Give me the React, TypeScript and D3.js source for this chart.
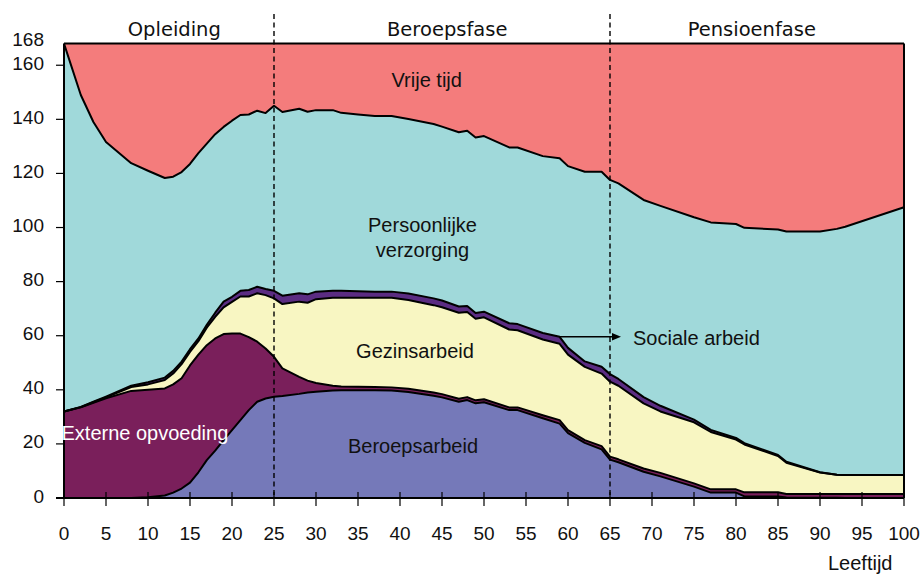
import React from 'react';
import * as d3 from 'd3';

const ages = [0,2,3.5,5,8,10,12,13,14,15,16,17,18,19,20,21,22,23,24,25,26,28,29,30,32,33,35,37,39,41,44,45,47,48,49,50,53,54,57,59,60,62,64,65,66,69,71,75,77,80,81,85,86,90,92,93,100];

const beroepsarbeid = [0,0,0,0,0,0.3,0.9,2,3.5,5.7, 9.5,14,17.5,21.4,25.1,28.8,32.5,35.6,36.8,37.4, 37.7,38.5,39,39.3,39.7,39.8,39.8,39.8,39.7,39.2, 37.8,37.2,35.6,36.2,35,35.4,32.5,32.5,29.5,27.5, 24,20.4,18,14.2,13.2,9.7,8,4.2,2,2, 0.6,0.6,0.2,0.1,0.1,0,0];
const externeOpvoeding = [32,33.5,35.2,36.9,39.6,39.7,39.6,40,40.8,43.3, 43.5,42.5,41.5,39.2,35.7,32,27,22.2,18.5,14.8, 10.2,6.3,4.4,3.2,1.8,1.4,1.3,1.2,1.2,1.2, 1.2,1.2,1.1,1.1,1.1,1.1,1,1,1.1,1.3, 1.1,1,1.2,1.1,1.1,1.2,1.3,1.2,1.2,1.2, 1.5,1.5,1.3,1.4,1.4,1.5,1.5];
const gezinsarbeid = [0,0.1,0.2,0.3,1.4,2,3.1,4,5.2,5, 5,6.5,8,9.9,11.7,13.7,15,17.9,19.7,21.6, 23.8,27.8,28.8,31,32.5,32.8,32.9,33,33.1,32.8, 32.3,32.1,31.8,31.5,30.2,30.3,28.8,28.5,28,28.2, 27.9,27.1,26.8,27.7,27.2,24.1,22.7,22.6,21.2,18.4, 17.7,13.4,11.5,7.9,7.1,7,7];
const socialeArbeid = [0,0.1,0.2,0.3,0.5,0.8,0.9,1,0.9,1, 1,1,1.5,2.1,1.9,2.1,2.4,2.4,2.3,2.8, 3.1,3.1,3.1,2.8,2.6,2.6,2.4,2.3,2.3,2.4, 2.5,2.5,2.3,2.2,2.1,2.1,2.3,2.3,2.4,2.6, 2.5,2,2.5,2.8,2.5,2.3,2.1,1,0.8,0.6, 0.5,0.4,0.4,0.1,0,0,0];
const persoonlijkeVerzorging = [136,115.3,103.4,94.1,82.3,78.2,73.8,71.8,70.1,68.5, 68.5,67,66,64.6,65.1,65,64.9,65.1,65,68.4, 67.9,68.2,67.5,67.1,66.8,65.8,65.4,64.9,64.9,64.5, 64.5,64.3,64.4,64.8,64.9,64.9,65,65.3,65.4,66, 67.2,70.1,72.1,71.8,72.3,72.9,73.9,74.8,76.7,79.1, 79.6,83.4,85.1,89,90.9,91.8,99];
const vrijeTijd = [0,19,29,36.4,44.2,47,49.7,49.2,47.5,44.5, 40.5,37,33.5,30.8,28.5,26.4,26.2,24.8,25.7,23, 25.3,24.1,25.2,24.6,24.6,25.6,26.2,26.8,26.8,27.9, 29.7,30.7,32.8,32.2,34.7,34.2,38.4,38.4,41.6,42.4, 45.3,47.4,47.4,50.4,51.7,57.8,60,64.2,66.1,66.7, 68.1,68.7,69.5,69.5,68.5,67.7,60.5];

const seriesKeys = ['beroepsarbeid','externe','gezinsarbeid','sociale','persoonlijke','vrije'];
const seriesColors = ['#7579b9','#7a1f5b','#f8f6c2','#5b2c82','#a0d9da','#f47c7c'];
const yTicks = [0,20,40,60,80,100,120,140,160];
const xTicks = [0,5,10,15,20,25,30,35,40,45,50,55,60,65,70,75,80,85,90,95,100];
const phaseBounds = [25, 65];
const phases = [
  { label: 'Opleiding', x: 174.3 },
  { label: 'Beroepsfase', x: 447.2 },
  { label: 'Pensioenfase', x: 751.8 },
];

export default function App() {
  const x = d3.scaleLinear().domain([0, 100]).range([64, 904]);
  const y = d3.scaleLinear().domain([0, 168]).range([498, 43.6]);

  const rows = ages.map((a, i) => ({
    age: a,
    beroepsarbeid: beroepsarbeid[i],
    externe: externeOpvoeding[i],
    gezinsarbeid: gezinsarbeid[i],
    sociale: socialeArbeid[i],
    persoonlijke: persoonlijkeVerzorging[i],
    vrije: vrijeTijd[i],
  }));
  const stacked = d3.stack<any>().keys(seriesKeys)(rows);

  const area = d3.area<any>()
    .x((d) => x(d.data.age))
    .y0((d) => y(d[0]))
    .y1((d) => y(d[1]));
  const line = d3.line<any>()
    .x((d) => x(d.data.age))
    .y((d) => y(d[1]));

  const font = "'Liberation Sans', Arial, sans-serif";
  const txt = '#111';

  return (
    <svg width={922} height={576} style={{ position: 'absolute', left: 0, top: 0, background: '#fff' }}>
      {stacked.map((s, i) => (
        <path key={s.key} d={area(s) || ''} fill={seriesColors[i]} stroke="none" />
      ))}
      {stacked.slice(0, 5).map((s) => (
        <path key={'l' + s.key} d={line(s) || ''} fill="none" stroke="#000" strokeWidth={2} strokeLinejoin="round" />
      ))}
      {/* frame */}
      <line x1={x(0)} x2={x(100)} y1={y(168)} y2={y(168)} stroke="#000" strokeWidth={2} />
      <line x1={x(100)} x2={x(100)} y1={y(168)} y2={y(0)} stroke="#000" strokeWidth={2} />
      <line x1={x(0)} x2={x(0)} y1={y(168)} y2={y(0)} stroke="#000" strokeWidth={2} />
      <line x1={x(0) - 8} x2={x(100)} y1={y(0)} y2={y(0)} stroke="#000" strokeWidth={2} />
      {/* phase dividers */}
      {phaseBounds.map((b) => (
        <line key={b} x1={x(b)} x2={x(b)} y1={14} y2={y(0)} stroke="#000" strokeWidth={1.4} strokeDasharray="5,3.5" />
      ))}
      {/* y ticks */}
      {yTicks.map((t) => (
        <g key={'y' + t}>
          <line x1={x(0) - 8} x2={x(0)} y1={y(t)} y2={y(t)} stroke="#000" strokeWidth={1.2} />
          <text x={44} y={y(t) + 4.5} textAnchor="end" fontFamily={font} fontSize={19} fill={txt}>{t}</text>
        </g>
      ))}
      <text x={44} y={46} textAnchor="end" fontFamily={font} fontSize={19} fill={txt}>168</text>
      {/* x ticks */}
      {xTicks.map((t) => (
        <g key={'x' + t}>
          <line x1={x(t)} x2={x(t)} y1={492} y2={506} stroke="#000" strokeWidth={1.2} />
          <text x={x(t)} y={540} textAnchor="middle" fontFamily={font} fontSize={19} fill={txt}>{t}</text>
        </g>
      ))}
      <text x={828} y={570} fontFamily={font} fontSize={20} fill={txt}>Leeftijd</text>
      {/* phase labels */}
      {phases.map((p) => (
        <text key={p.label} x={p.x} y={35.5} textAnchor="middle" fontFamily="'DejaVu Sans', Verdana, sans-serif" fontSize={19.5} fill={txt}>{p.label}</text>
      ))}
      {/* series labels */}
      <text x={426.7} y={87} textAnchor="middle" fontFamily={font} fontSize={20} fill={txt}>Vrije tijd</text>
      <text x={422.5} y={231.7} textAnchor="middle" fontFamily={font} fontSize={20} fill={txt}>Persoonlijke</text>
      <text x={422.5} y={257} textAnchor="middle" fontFamily={font} fontSize={20} fill={txt}>verzorging</text>
      <text x={415} y={358.3} textAnchor="middle" fontFamily={font} fontSize={20} fill={txt}>Gezinsarbeid</text>
      <text x={413} y={453.3} textAnchor="middle" fontFamily={font} fontSize={20} fill={txt}>Beroepsarbeid</text>
      <text x={633} y={345} fontFamily={font} fontSize={20} fill={txt}>Sociale arbeid</text>
      <text x={61.5} y={440} fontFamily={font} fontSize={20} fill="#fff">Externe opvoeding</text>
      {/* arrow */}
      <line x1={560} x2={614} y1={336.7} y2={336.7} stroke="#000" strokeWidth={1.5} />
      <path d="M 621 336.7 L 612 333 L 612 340.4 Z" fill="#000" />
    </svg>
  );
}
